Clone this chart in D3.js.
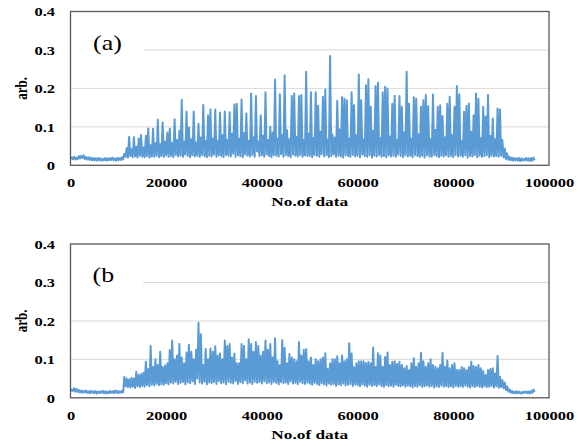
<!DOCTYPE html>
<html>
<head>
<meta charset="utf-8">
<script src="https://cdn.jsdelivr.net/npm/d3@7"></script>
<style>
  html, body { margin: 0; padding: 0; background: #ffffff; }
  svg { display: block; }
</style>
</head>
<body>
<svg id="chart" width="586" height="446"></svg>
<script>
// Sample spacing (in data points) between consecutive stored values.
const SAMPLE_STEP = 250;

// Panel (a): local minima (at 0, 500, 1000, ...) and local maxima (at 250, 750, ...)
const lowA = [
  0.017,0.016,0.015,0.016,0.018,0.019,0.016,0.015,0.014,0.013,0.013,0.012,0.013,0.012,0.013,0.012,0.013,0.014,0.013,0.012,0.013,0.014,0.015,
  0.022,0.02,0.024,0.021,0.023,0.02,0.025,0.022,0.021,0.024,0.02,0.023,0.022,0.025,0.021,0.024,0.022,
  0.026,0.022,0.024,0.021,0.027,0.023,0.025,0.022,0.028,0.024,0.021,0.026,0.023,0.025,0.022,0.027,0.024,0.021,0.025,0.023,
  0.028,0.022,0.026,0.024,0.021,0.027,0.025,0.023,0.03,0.022,0.026,0.024,0.021,0.028,0.025,0.023,0.027,0.022,0.036,0.024,
  0.026,0.022,0.028,0.024,0.021,0.027,0.025,0.023,0.029,0.022,0.026,0.024,0.021,0.028,0.025,0.023,0.027,0.022,0.026,0.024,
  0.024,0.021,0.027,0.025,0.022,0.029,0.023,0.026,0.021,0.024,0.028,0.022,0.025,0.023,0.02,0.026,0.024,0.022,0.027,0.023,
  0.025,0.021,0.028,0.024,0.022,0.026,0.02,0.025,0.023,0.027,0.022,0.024,0.021,0.026,0.023,0.025,0.022,0.028,0.024,0.021,
  0.026,0.023,0.025,0.021,0.027,0.024,0.022,0.025,0.02,0.026,0.023,0.022,0.027,0.024,0.021,0.025,0.023,0.026,0.022,0.024,
  0.021,0.027,0.023,0.025,0.022,0.026,0.02,0.024,0.023,0.027,0.021,0.025,0.022,0.024,0.026,0.021,0.025,0.023,0.024,0.022,0.025,
  0.02,0.016,0.014,0.013,0.012,0.013,0.012,0.011,0.012,0.013,0.012,0.011,0.012,0.013
];
const highA = [
  0.021,0.022,0.02,0.024,0.025,0.026,0.022,0.021,0.02,0.019,0.018,0.019,0.018,0.017,0.019,0.018,0.019,0.02,0.018,0.019,0.019,0.021,
  0.03,0.045,0.074,0.042,0.073,0.048,0.07,0.079,
  0.046,0.077,0.096,0.052,0.095,0.058,0.119,0.055,0.111,0.062,
  0.085,0.095,0.058,0.12,0.066,0.09,0.17,0.061,0.14,0.098,
  0.068,0.14,0.059,0.108,0.072,0.157,0.063,0.13,0.145,0.07,
  0.145,0.064,0.137,0.078,0.14,0.066,0.138,0.082,0.158,0.16,
  0.069,0.171,0.084,0.135,0.064,0.187,0.073,0.18,0.062,0.13,
  0.077,0.19,0.066,0.1,0.085,0.223,0.07,0.185,0.079,0.234,
  0.091,0.068,0.18,0.187,0.074,0.18,0.183,0.066,0.243,0.083,
  0.19,0.071,0.19,0.155,0.088,0.178,0.197,0.067,0.284,0.08,
  0.072,0.168,0.093,0.177,0.173,0.169,0.07,0.19,0.156,0.078,
  0.236,0.169,0.067,0.208,0.224,0.152,0.09,0.206,0.215,0.071,
  0.19,0.204,0.2,0.075,0.16,0.181,0.066,0.18,0.152,0.086,
  0.243,0.16,0.07,0.177,0.173,0.081,0.152,0.169,0.183,0.154,
  0.068,0.184,0.092,0.152,0.156,0.128,0.073,0.16,0.178,0.079,
  0.152,0.206,0.185,0.064,0.139,0.154,0.161,0.087,0.13,0.187,
  0.173,0.071,0.152,0.127,0.183,0.076,0.122,0.068,0.148,0.145,
  0.066,0.044,0.031,0.022,0.02,0.019,0.018,0.019,0.018,0.017,0.019,0.018,0.019,0.02
];

// Panel (b)
const lowB = [
  0.017,0.018,0.016,0.015,0.014,0.013,0.014,0.013,0.012,0.013,0.012,0.011,0.012,0.013,0.012,0.011,0.012,0.013,0.012,0.013,0.012,0.013,0.014,
  0.03,0.028,0.027,0.029,0.026,0.03,0.028,0.031,0.029,0.033,0.03,0.034,0.032,0.036,0.033,0.035,0.034,
  0.038,0.035,0.04,0.037,0.042,0.036,0.039,0.041,0.035,0.04,0.038,0.043,0.036,0.05,0.04,0.037,0.042,0.035,0.04,0.038,
  0.041,0.036,0.043,0.038,0.04,0.035,0.042,0.039,0.037,0.044,0.036,0.041,0.038,0.045,0.037,0.04,0.036,0.042,0.039,0.041,
  0.037,0.043,0.038,0.04,0.036,0.042,0.039,0.035,0.041,0.038,0.04,0.036,0.043,0.037,0.039,0.035,0.041,0.038,0.036,0.04,
  0.037,0.034,0.039,0.036,0.033,0.038,0.035,0.032,0.037,0.034,0.036,0.031,0.035,0.033,0.037,0.032,0.034,0.036,0.031,0.035,
  0.033,0.03,0.035,0.032,0.029,0.034,0.031,0.033,0.03,0.035,0.031,0.028,0.033,0.03,0.032,0.029,0.034,0.031,0.03,0.033,
  0.029,0.032,0.03,0.027,0.031,0.029,0.033,0.028,0.03,0.032,0.029,0.031,0.027,0.03,0.028,0.032,0.029,0.031,0.028,0.03,
  0.027,0.031,0.029,0.03,0.028,0.032,0.029,0.027,0.03,0.028,0.031,0.029,0.027,0.03,0.028,0.029,0.031,0.027,0.03,0.026,0.028,
  0.025,0.02,0.016,0.013,0.012,0.011,0.012,0.011,0.012,0.013,0.012,0.011,0.013,0.015
];
const highB = [
  0.022,0.025,0.023,0.02,0.019,0.018,0.019,0.017,0.018,0.017,0.018,0.016,0.017,0.018,0.017,0.016,0.018,0.017,0.019,0.018,0.017,0.018,
  0.055,0.05,0.048,0.052,0.05,0.068,0.06,0.062,
  0.065,0.094,0.075,0.135,0.08,0.1,0.085,0.12,0.08,0.084,
  0.09,0.124,0.149,0.1,0.11,0.14,0.105,0.09,0.118,0.138,
  0.12,0.1,0.125,0.195,0.165,0.085,0.127,0.1,0.128,0.12,
  0.134,0.11,0.115,0.1,0.149,0.135,0.14,0.105,0.115,0.09,
  0.09,0.14,0.135,0.1,0.152,0.14,0.12,0.145,0.135,0.11,
  0.12,0.149,0.125,0.14,0.105,0.155,0.095,0.085,0.15,0.13,
  0.09,0.114,0.105,0.1,0.095,0.145,0.11,0.125,0.127,0.095,
  0.105,0.085,0.1,0.095,0.1,0.105,0.116,0.075,0.09,0.1,
  0.1,0.108,0.09,0.11,0.095,0.1,0.142,0.115,0.08,0.09,
  0.095,0.095,0.095,0.09,0.094,0.09,0.131,0.08,0.116,0.11,
  0.08,0.106,0.118,0.085,0.094,0.095,0.088,0.094,0.085,0.077,
  0.083,0.072,0.09,0.103,0.081,0.09,0.117,0.095,0.081,0.09,
  0.1,0.085,0.081,0.077,0.085,0.117,0.081,0.097,0.077,0.085,
  0.09,0.072,0.072,0.08,0.077,0.072,0.08,0.094,0.083,0.08,
  0.085,0.077,0.07,0.059,0.072,0.075,0.077,0.063,0.109,0.055,
  0.046,0.04,0.03,0.022,0.018,0.016,0.017,0.016,0.015,0.016,0.017,0.016,0.018,0.021
];

const xTicks = [0, 20000, 40000, 60000, 80000, 100000];
const yTicks = [0, 0.1, 0.2, 0.3, 0.4];
const panelLabels = ["(a)", "(b"];
const xTitle = "No.of data";
const yTitle = "arb.";

// Interleave minima and maxima into one ordered series.
function buildSeries(lows, highs) {
  const out = [];
  const n = Math.max(lows.length, highs.length);
  for (let j = 0; j < n; j++) {
    if (j < lows.length) out.push({ idx: (2 * j) * SAMPLE_STEP, v: lows[j] });
    if (j < highs.length) out.push({ idx: (2 * j + 1) * SAMPLE_STEP, v: highs[j] });
  }
  return out;
}

const panels = [
  { series: buildSeries(lowA, highA), label: panelLabels[0], top: 11.5, bottom: 165.3,
    labelPos: [93, 50], maskBox: [71, 26, 73, 36] },
  { series: buildSeries(lowB, highB), label: panelLabels[1], top: 244, bottom: 397.8,
    labelPos: [92.5, 281.5], maskBox: [71, 258, 72, 36] }
];

const LEFT = 70.5, RIGHT = 549;
const FONT = "'Liberation Serif', 'Times New Roman', Times, serif";
const SX = 1.32;   // horizontal stretch of the lettering
const svg = d3.select("#chart");
svg.append("rect").attr("width", 586).attr("height", 446).attr("fill", "#ffffff");

const x = d3.scaleLinear().domain([0, 100000]).range([LEFT, RIGHT]);

panels.forEach(p => {
  const y = d3.scaleLinear().domain([0, 0.4]).range([p.bottom, p.top]);
  const g = svg.append("g");

  // horizontal gridlines
  g.append("g").selectAll("line").data(yTicks.filter(t => t > 0 && t < 0.4)).join("line")
    .attr("x1", LEFT).attr("x2", RIGHT)
    .attr("y1", d => y(d)).attr("y2", d => y(d))
    .attr("stroke", "#d9d9d9").attr("stroke-width", 1);

  // white box behind the panel label
  const [bx, by, bw, bh] = p.maskBox;
  g.append("rect").attr("x", bx).attr("y", by).attr("width", bw).attr("height", bh).attr("fill", "#ffffff");

  // signal trace
  const line = d3.line().x(d => x(d.idx)).y(d => y(d.v));
  g.append("path").datum(p.series)
    .attr("d", line)
    .attr("fill", "none")
    .attr("stroke", "#5b9bd5")
    .attr("stroke-width", 2)
    .attr("stroke-linejoin", "round");

  // plot frame
  g.append("rect")
    .attr("x", LEFT).attr("y", p.top)
    .attr("width", RIGHT - LEFT).attr("height", p.bottom - p.top)
    .attr("fill", "none").attr("stroke", "#595959").attr("stroke-width", 1.3);

  // y axis labels
  const yAxis = d3.axisLeft(y).tickValues(yTicks).tickSize(0)
    .tickFormat(d => d === 0 ? "0" : d3.format(".1f")(d));
  const ya = g.append("g").attr("transform", `translate(${LEFT},0)`).call(yAxis);
  ya.select(".domain").remove();
  ya.selectAll("text")
    .attr("x", null).attr("dy", null)
    .attr("transform", `translate(-15.5,4.3) scale(${SX},1)`)
    .attr("text-anchor", "end")
    .attr("font-family", FONT).attr("font-weight", "bold").attr("font-size", 12.5).attr("fill", "#000");

  // x axis labels
  const xAxis = d3.axisBottom(x).tickValues(xTicks).tickSize(0).tickFormat(d3.format("d"));
  const xa = g.append("g").attr("transform", `translate(0,${p.bottom})`).call(xAxis);
  xa.select(".domain").remove();
  xa.selectAll("text")
    .attr("y", null).attr("dy", null)
    .attr("transform", `translate(0,21.8) scale(${SX},1)`)
    .attr("text-anchor", "middle")
    .attr("font-family", FONT).attr("font-weight", "bold").attr("font-size", 12.5).attr("fill", "#000");

  // axis titles
  g.append("text")
    .attr("transform", `translate(${(LEFT + RIGHT) / 2},${p.bottom + 40.8}) scale(1.33,1)`)
    .attr("text-anchor", "middle")
    .attr("font-family", FONT).attr("font-weight", "bold").attr("font-size", 13).attr("fill", "#000")
    .text(xTitle);
  g.append("text")
    .attr("transform", `translate(27,${(p.top + p.bottom) / 2}) scale(1.33,1) rotate(-90)`)
    .attr("text-anchor", "middle")
    .attr("font-family", FONT).attr("font-weight", "bold").attr("font-size", 13).attr("fill", "#000")
    .text(yTitle);

  // panel label
  g.append("text")
    .attr("transform", `translate(${p.labelPos[0]},${p.labelPos[1]}) scale(1.18,1)`)
    .attr("font-family", FONT).attr("font-size", 22).attr("fill", "#000")
    .text(p.label);
});
</script>
</body>
</html>
